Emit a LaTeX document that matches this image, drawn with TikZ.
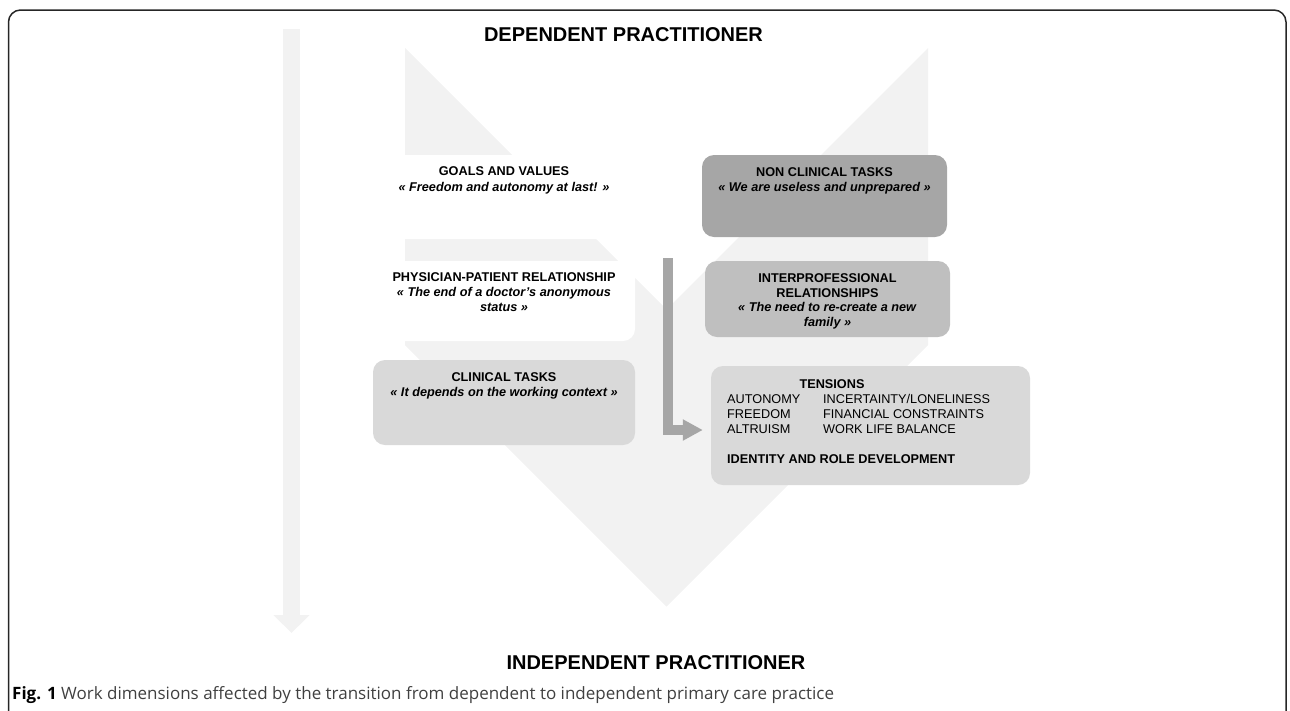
\documentclass[tikz,border=0pt]{standalone}
\usepackage{fontspec}
\setmainfont{Liberation Sans}
\newfontfamily\capfont{Open Sans}
\usepackage{tikz}
\usetikzlibrary{arrows.meta,positioning}
\definecolor{chevgray}{HTML}{F2F2F2}
\definecolor{darkbox}{HTML}{A6A6A6}
\definecolor{midbox}{HTML}{BFBFBF}
\definecolor{lightbox}{HTML}{D9D9D9}
\definecolor{framegray}{HTML}{262626}
\definecolor{capgray}{HTML}{404040}

\begin{document}
\begin{tikzpicture}[x=1pt, y=-1pt, font=\fontsize{12.7}{15.2}\selectfont]

% Box and text styles
\tikzstyle{box} = [rectangle, rounded corners=12pt, inner sep=0pt, minimum width=262pt]
\tikzstyle{boxtext} = [inner sep=0pt, align=center]
\tikzstyle{heading} = [inner sep=0pt, font=\fontsize{20}{24}\selectfont\bfseries]

\useasboundingbox (0,0) rectangle (1290,710);

% Outer frame
\draw[framegray, line width=1.5pt, rounded corners=12pt] (8.5,715) -- (8.5,10) -- (1286,10) -- (1286,715);

% Time arrow on the left
\coordinate (arrtop) at (291.5,29);
\coordinate (arrbot) at (291.5,633);
\draw[chevgray, line width=17pt, -{Triangle[width=35pt,length=18pt]}] (arrtop) -- (arrbot);

% Background chevron
\fill[chevgray] (405,48) -- (666.5,309.5) -- (928,48) -- (928,345) -- (666.5,606.5) -- (405,345) -- cycle;

% Titles
\node[heading, anchor=base] (dep) at (623.5,41) {DEPENDENT PRACTITIONER};
\node[heading, anchor=base] (indep) at (656,669) {INDEPENDENT PRACTITIONER};

% Left column
\node[box, fill=white, minimum height=84pt] (goals) at (504,197) {};
\node[box, fill=white, minimum height=80pt] (phys) at (504,301) {};
\node[box, fill=lightbox, minimum height=85pt] (clin) at (504,402.5) {};

\node[boxtext, below=12pt of goals.north] (goalstxt) {\textbf{GOALS AND VALUES}\\\textbf{\textit{« Freedom and autonomy at last! »}}};
\node[boxtext, below=11.5pt of phys.north] (phystxt) {\textbf{PHYSICIAN-PATIENT RELATIONSHIP}\\\textbf{\textit{« The end of a doctor’s anonymous}}\\\textbf{\textit{status »}}};
\node[boxtext, below=12.5pt of clin.north] (clintxt) {\textbf{CLINICAL TASKS}\\\textbf{\textit{« It depends on the working context »}}};

% Right column
\node[box, fill=darkbox, minimum width=245pt, minimum height=82pt] (noncl) at (824.5,196) {};
\node[box, fill=midbox, minimum width=245pt, minimum height=76pt] (interp) at (827.5,299) {};
\node[box, fill=lightbox, minimum width=319pt, minimum height=119pt] (tens) at (870.5,425.5) {};

\node[boxtext, below=12.5pt of noncl.north] (nonctxt) {\textbf{NON CLINICAL TASKS}\\\textbf{\textit{« We are useless and unprepared »}}};
\node[boxtext, below=12.5pt of interp.north, font=\fontsize{12.7}{14.7}\selectfont] (interptxt) {\textbf{INTERPROFESSIONAL}\\\textbf{RELATIONSHIPS}\\\textbf{\textit{« The need to re-create a new}}\\\textbf{\textit{family »}}};
\node[boxtext, below=13.5pt of tens.north, xshift=-38.5pt] (tenshead) {\textbf{TENSIONS}};
\node[boxtext, align=left, anchor=north west, font=\fontsize{12.7}{15}\selectfont] (tenslist) at (727,394.5)
  {\makebox[96pt][l]{AUTONOMY}INCERTAINTY/LONELINESS\\
   \makebox[96pt][l]{FREEDOM}FINANCIAL CONSTRAINTS\\
   \makebox[96pt][l]{ALTRUISM}WORK LIFE BALANCE\\[15pt]
   \textbf{IDENTITY AND ROLE DEVELOPMENT}};

% Gray arrow into the tensions box
\coordinate (bend) at (668,258);
\draw[darkbox, line width=10pt, -{Triangle[width=20pt,length=20pt]}, shorten >=8pt] (bend) |- ([yshift=-4.5pt]tens.west);

% Caption
\node[anchor=base west, inner sep=0pt, font=\capfont\fontsize{17}{20}\selectfont, text=capgray] (caption) at (12,699)
  {\textbf{\color{black}Fig. 1} Work dimensions affected by the transition from dependent to independent primary care practice};

\end{tikzpicture}
\end{document}
